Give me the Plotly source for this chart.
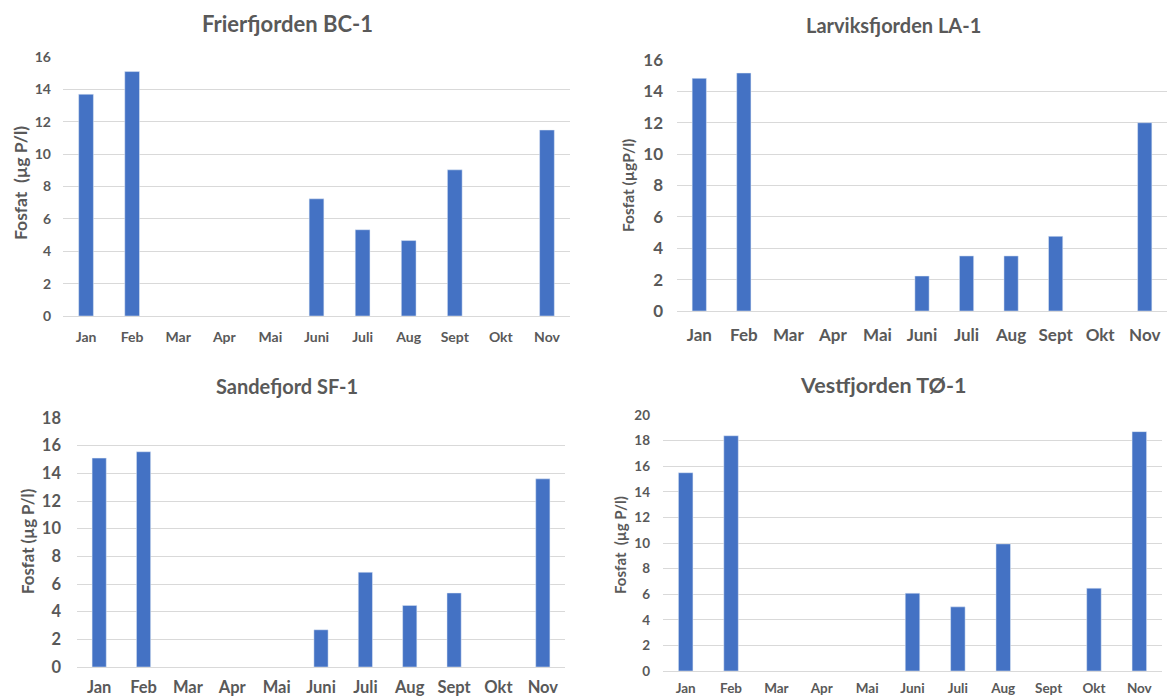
import plotly.graph_objects as go

months = ["Jan", "Feb", "Mar", "Apr", "Mai", "Juni", "Juli", "Aug", "Sept", "Okt", "Nov"]

titles = ["Frierfjorden BC-1", "Larviksfjorden LA-1", "Sandefjord SF-1", "Vestfjorden TØ-1"]
ytitles = ["Fosfat  (µg P/l)", "Fosfat (µgP/l)", "Fosfat (µg P/l)", "Fosfat  (µg P/l)"]

frierfjorden = [13.7, 15.1, None, None, None, 7.24, 5.33, 4.66, 9.03, None, 11.49]
larviksfjorden = [14.83, 15.17, None, None, None, 2.23, 3.51, 3.51, 4.76, None, 12.0]
sandefjord = [15.1, 15.56, None, None, None, 2.69, 6.85, 4.45, 5.35, None, 13.6]
vestfjorden = [15.49, 18.38, None, None, None, 6.08, 5.01, 9.93, None, 6.47, 18.7]

yranges = [16, 16, 18, 20]
ydticks = [2, 2, 2, 2]

W, H = 1167, 698
BAR = "#4472C4"
GRID = "#D9D9D9"
TXT = "#595959"
FONT = "Lato"

# panel geometry in pixels: (left, right, top, bottom)
boxes = [(63, 570, 57, 316), (677, 1167, 60, 311), (77, 565, 418, 667), (663, 1162, 415, 671)]
tick_sizes = [14, 17, 16.5, 13.5]
ytitle_sizes = [17.5, 15.5, 16.8, 15]
title_sizes = [22, 20, 20, 21.5]
title_pos = [(287, 23), (893, 25), (287, 386), (883, 385)]
ytitle_pos = [(20, 183), (628, 186), (27, 542), (620, 545)]
xstandoff = [8, 9, 5, 5]
ystandoff = [11, 13, 15, 12]

series = [frierfjorden, larviksfjorden, sandefjord, vestfjorden]

fig = go.Figure()
annotations = []
for i, vals in enumerate(series):
    n = "" if i == 0 else str(i + 1)
    fig.add_trace(go.Bar(x=months, y=vals, marker_color=BAR, xaxis="x" + n, yaxis="y" + n,
                         showlegend=False))
    l, r, t, b = boxes[i]
    fig.layout["xaxis" + n] = dict(
        domain=[l / W, r / W], anchor="y" + n, type="category", automargin=False,
        showgrid=False, showline=True, linecolor=GRID, linewidth=1,
        tickfont=dict(family=FONT, size=tick_sizes[i], color=TXT, weight="bold"),
        ticks="", ticklabelstandoff=xstandoff[i], fixedrange=True,
    )
    fig.layout["yaxis" + n] = dict(
        domain=[1 - b / H, 1 - t / H], anchor="x" + n, automargin=False,
        range=[0, yranges[i]], dtick=ydticks[i], showgrid=True, gridcolor=GRID, gridwidth=1,
        zeroline=False, showline=False,
        tickfont=dict(family=FONT, size=tick_sizes[i], color=TXT, weight="bold"),
        ticks="", ticklabelstandoff=ystandoff[i], fixedrange=True,
    )
    tx, ty = title_pos[i]
    annotations.append(dict(text=titles[i], x=tx / W, y=1 - ty / H, xref="paper", yref="paper",
                            xanchor="center", yanchor="middle", showarrow=False,
                            font=dict(family=FONT, size=title_sizes[i], color=TXT, weight="bold")))
    ax, ay = ytitle_pos[i]
    annotations.append(dict(text=ytitles[i], x=ax / W, y=1 - ay / H,
                            xref="paper", yref="paper", textangle=-90,
                            xanchor="center", yanchor="middle", showarrow=False,
                            font=dict(family=FONT, size=ytitle_sizes[i], color=TXT, weight="bold")))

fig.update_layout(
    width=W, height=H, margin=dict(l=0, r=0, t=0, b=0, autoexpand=False),
    paper_bgcolor="white", plot_bgcolor="white",
    bargap=0.68, annotations=annotations,
)

fig.write_html("out.html", config={"displayModeBar": False},
               post_script="document.body.style.margin='0';document.body.style.overflow='hidden';")
